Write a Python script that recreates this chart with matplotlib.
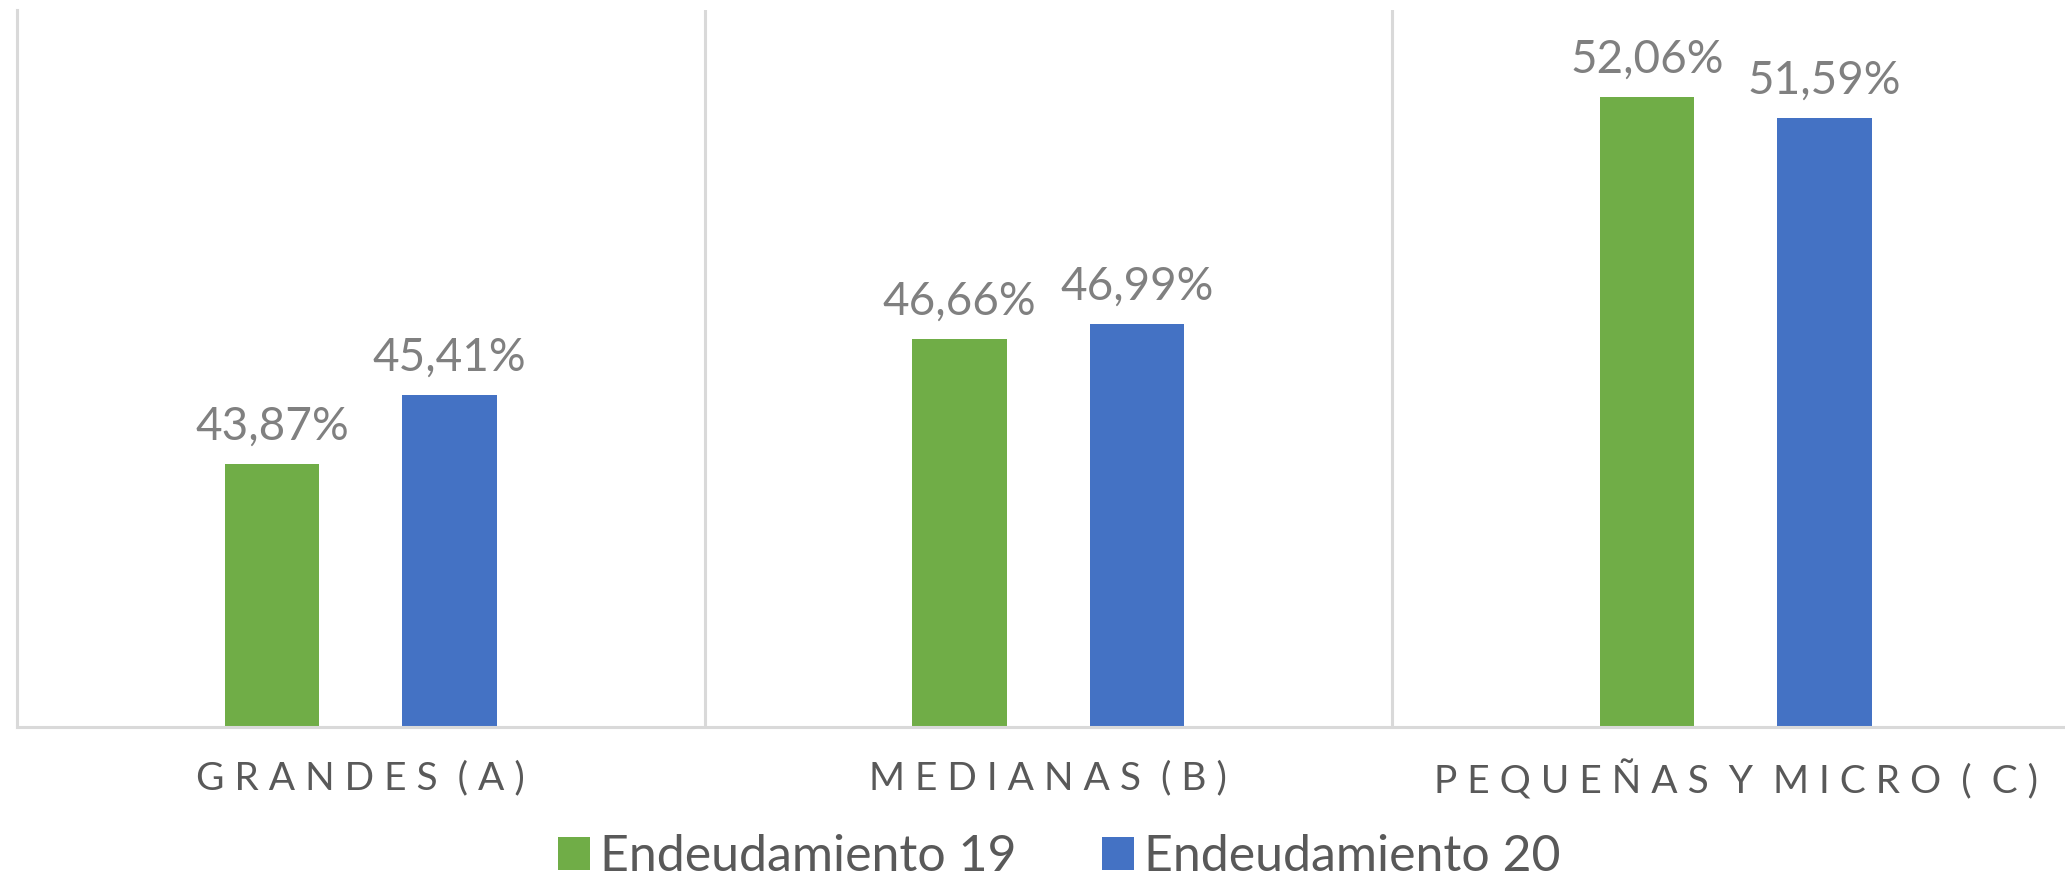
import numpy as np
import matplotlib
matplotlib.use('Agg')
import matplotlib.pyplot as plt

plt.rcParams['font.family'] = ['Lato', 'DejaVu Sans']

categories = ['GRANDES (A)', 'MEDIANAS (B)', 'PEQUEÑAS Y MICRO ( C)']
endeudamiento_19 = [43.87, 46.66, 52.06]
endeudamiento_20 = [45.41, 46.99, 51.59]
series_names = ['Endeudamiento 19', 'Endeudamiento 20']


def spaced(s):
    # imitate the wide letter spacing of the original axis labels
    return ' '.join(s).replace('   ', '  ')


def pct(v):
    return ('%.2f%%' % v).replace('.', ',')


fig = plt.figure(figsize=(20.65, 8.77), dpi=100)
ax = fig.add_axes([17 / 2065, 150 / 877, 1 - 17 / 2065, 717 / 877])

x = np.arange(len(categories))
w = 0.137
off = 0.129
b1 = ax.bar(x - off, endeudamiento_19, w, color='#70AD47', label=series_names[0])
b2 = ax.bar(x + off, endeudamiento_20, w, color='#4472C4', label=series_names[1])

for bars, vals in ((b1, endeudamiento_19), (b2, endeudamiento_20)):
    for r, v in zip(bars, vals):
        ax.annotate(pct(v), (r.get_x() + r.get_width() / 2, v),
                    xytext=(0, 12), textcoords='offset points',
                    ha='center', va='bottom', fontsize=33, color='#808080')

ax.set_ylim(38, 54)
ax.set_xlim(-0.5, -0.5 + 2048 / 687.5)

# category separators
for sep in (0.5, 1.5):
    ax.axvline(sep, color='#d9d9d9', lw=2.2, zorder=0)

for s in ('top', 'right'):
    ax.spines[s].set_visible(False)
ax.spines['left'].set_color('#d9d9d9')
ax.spines['left'].set_linewidth(2.2)
ax.spines['bottom'].set_color('#d9d9d9')
ax.spines['bottom'].set_linewidth(2.2)

ax.set_yticks([])
ax.set_xticks(x)
ax.set_xticklabels([spaced(c) for c in categories], fontsize=28, color='#595959')
ax.tick_params(axis='x', length=0, pad=24)

fig.legend(loc='center', bbox_to_anchor=(0.513, 0.023), ncol=2, frameon=False,
           fontsize=36, labelcolor='#595959', handlelength=0.65, handleheight=0.65,
           handletextpad=0.2, columnspacing=1.7, borderaxespad=0)

fig.savefig('out.png', dpi=100)
